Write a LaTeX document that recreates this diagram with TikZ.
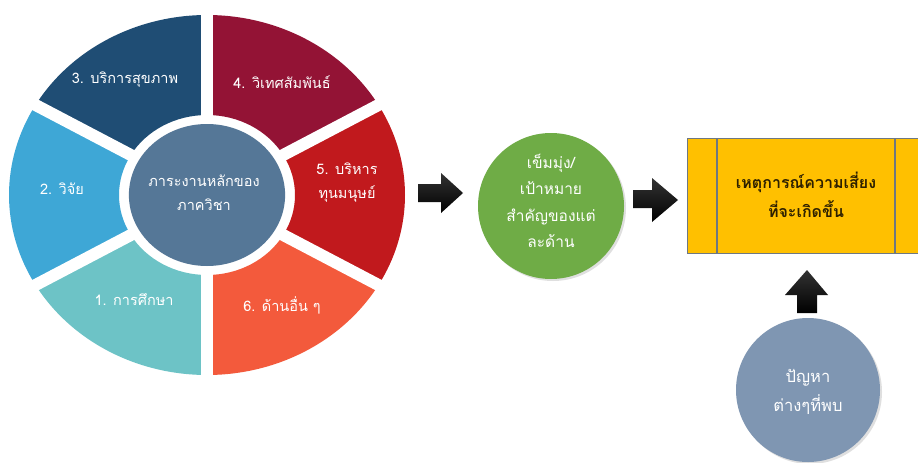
\documentclass[tikz,border=0pt]{standalone}
\usepackage{fontspec}
\newfontfamily\thai[Script=Thai]{Loma}
\usetikzlibrary{shadows}
\definecolor{cthree}{RGB}{31,77,116}
\definecolor{cfour}{RGB}{147,19,53}
\definecolor{cfive}{RGB}{193,25,29}
\definecolor{csix}{RGB}{243,90,60}
\definecolor{cone}{RGB}{109,195,198}
\definecolor{ctwo}{RGB}{62,167,214}
\definecolor{cinner}{RGB}{85,119,151}
\definecolor{cgreen}{RGB}{111,172,70}
\definecolor{cyellow}{RGB}{255,192,0}
\definecolor{cbot}{RGB}{127,150,178}
\definecolor{cborder}{RGB}{110,120,130}
\definecolor{cdark}{RGB}{45,32,0}
\begin{document}
\begin{tikzpicture}[x=1pt,y=-1pt,
  lbl/.style={text=white, align=center, inner sep=0pt, font=\thai\fontsize{14.5}{24}\selectfont},
  biglbl/.style={text=white, align=center, inner sep=0pt, font=\thai\fontsize{15.5}{26.5}\selectfont},
  problbl/.style={text=white, align=center, inner sep=0pt, font=\thai\fontsize{16.5}{29}\selectfont},
  bubble/.style={circle, inner sep=0pt, drop shadow={opacity=0.25, shadow xshift=2pt, shadow yshift=-2pt}},
  blockarrow/.style={top color=black!80, bottom color=black, draw=none}]
\clip (0,0) rectangle (918,463);
\fill[white] (0,0) rectangle (918,463);
% wheel
\begin{scope}[shift={(207,195)}, xscale=1.1, yscale=-1]
  \foreach \a/\b/\c in {90/150/cthree, 30/90/cfour, -30/30/cfive, -90/-30/csix, -150/-90/cone, 150/210/ctwo}
    \fill[\c] (\a:180) arc[start angle=\a, end angle=\b, radius=180] -- (\b:80) arc[start angle=\b, end angle=\a, radius=80] -- cycle;
  \foreach \a in {90,30,-30,-90,-150,150}
    \draw[white, line width=12pt] (0,0) -- (\a:195);
  \fill[cinner] (0,0) circle[radius=71];
\end{scope}
\node[lbl] (core) at (204,193) {ภาระงานหลักของ\\ภาควิชา};
\node[lbl] (s3) at (125,80) {3. บริการสุขภาพ};
\node[lbl] (s4) at (282,82) {4. วิเทศสัมพันธ์};
\node[lbl] (s5) at (347,183) {5. บริหาร\\ทุนมนุษย์};
\node[lbl] (s6) at (282,305) {6. ด้านอื่น ๆ};
\node[lbl] (s1) at (134,300) {1. การศึกษา};
\node[lbl] (s2) at (62,189) {2. วิจัย};
% green circle
\node[bubble, fill=cgreen, minimum size=146pt] (goal) at (551,206) {};
\node[biglbl] (goaltext) at (551,201) {เข็มมุ่ง/\\เป้าหมาย\\สำคัญของแต่\\ละด้าน};
% yellow box
\node[rectangle, draw=cborder, fill=cyellow, line width=1.3pt, anchor=north west, minimum width=260pt, minimum height=115pt, inner sep=0pt] (risk) at (687,138) {};
\coordinate (l1) at (717,138);
\coordinate (l2) at (895,138);
\draw[cborder, line width=1.3pt] (l1) -- (l1 |- risk.south);
\draw[cborder, line width=1.3pt] (l2) -- (l2 |- risk.south);
\node[align=center, inner sep=0pt, text=cdark, font=\thai\bfseries\fontsize{16}{29}\selectfont] (risktext) at (806,195) {เหตุการณ์ความเสี่ยง\\ที่จะเกิดขึ้น};
% bottom circle
\node[bubble, fill=cbot, minimum size=144pt] (prob) at (808,390) {};
\node[problbl] (probtext) at (808,392) {ปัญหา\\ต่างๆที่พบ};
% block arrows
\shade[blockarrow] (418,184) -- (441,184) -- (441,173) -- (463,193) -- (441,213) -- (441,202) -- (418,202) -- cycle;
\shade[blockarrow] (633,190) -- (652,190) -- (652,178) -- (678,200) -- (652,222) -- (652,208) -- (633,208) -- cycle;
\shade[blockarrow] (797,313) -- (797,295) -- (785,295) -- (807,270) -- (828,295) -- (817,295) -- (817,313) -- cycle;
\end{tikzpicture}
\end{document}
